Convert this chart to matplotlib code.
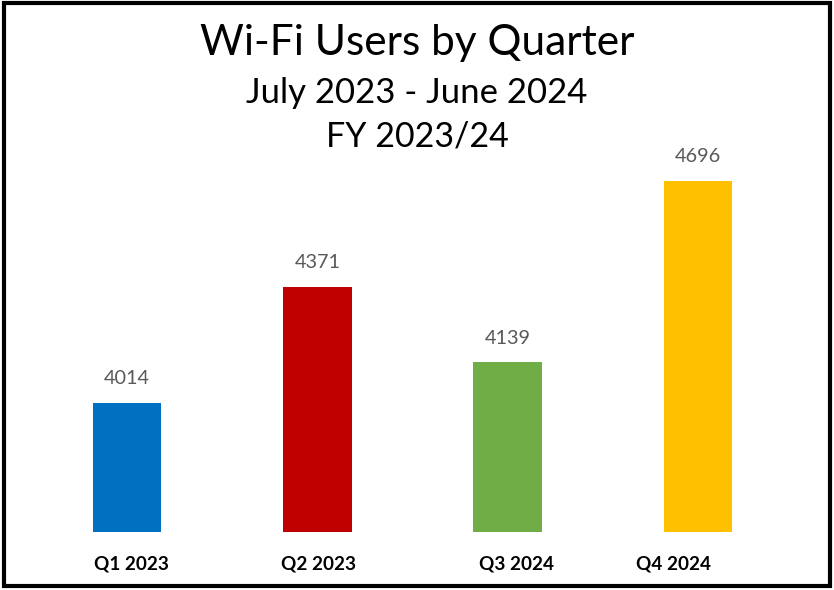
import matplotlib
matplotlib.use("Agg")
import matplotlib.pyplot as plt
from matplotlib.patches import Rectangle
import matplotlib.transforms as mtransforms

categories = ["Q1 2023", "Q2 2023", "Q3 2024", "Q4 2024"]
values = [4014, 4371, 4139, 4696]
colors = ["#0070C0", "#C00000", "#70AD47", "#FFC000"]
label_offsets_px = [4, 1, 9, -24]

plt.rcParams['font.family'] = ['Lato', 'DejaVu Sans']

W, H = 834, 590
fig = plt.figure(figsize=(W / 100, H / 100), dpi=100)
ax = fig.add_axes([32 / W, (H - 532) / H, 761 / W, 382 / H])

x = list(range(len(categories)))
ax.bar(x, values, width=0.36, color=colors, edgecolor="none")
ax.set_xlim(-0.5, len(categories) - 0.5)
ax.set_ylim(3618, 4791)

for xi, v in zip(x, values):
    ax.annotate(str(v), (xi, v), xytext=(0, 17.5), textcoords="offset points",
                ha="center", va="center", fontsize=14.3, color="#595959")

ax.set_xticks(x)
ax.set_xticklabels(categories, fontsize=13.6, fontweight="bold", color="black")
ax.tick_params(axis="x", length=0, pad=17)
for lab, off in zip(ax.get_xticklabels(), label_offsets_px):
    lab.set_transform(lab.get_transform() + mtransforms.Affine2D().translate(off, 0))
ax.set_yticks([])
for s in ax.spines.values():
    s.set_visible(False)

fig.text(0.5, 1 - 43 / H, "Wi-Fi Users by Quarter", ha="center", va="center", fontsize=30.5)
fig.text(0.5, 1 - 93 / H, "July 2023 - June 2024", ha="center", va="center", fontsize=25)
fig.text(0.5, 1 - 136 / H, "FY 2023/24", ha="center", va="center", fontsize=24.5)

fig.patches.append(Rectangle((4 / W, 4 / H), (W - 8) / W, (H - 7) / H, transform=fig.transFigure,
                             fill=False, edgecolor="black", linewidth=3))

fig.savefig("out.png", dpi=100)
